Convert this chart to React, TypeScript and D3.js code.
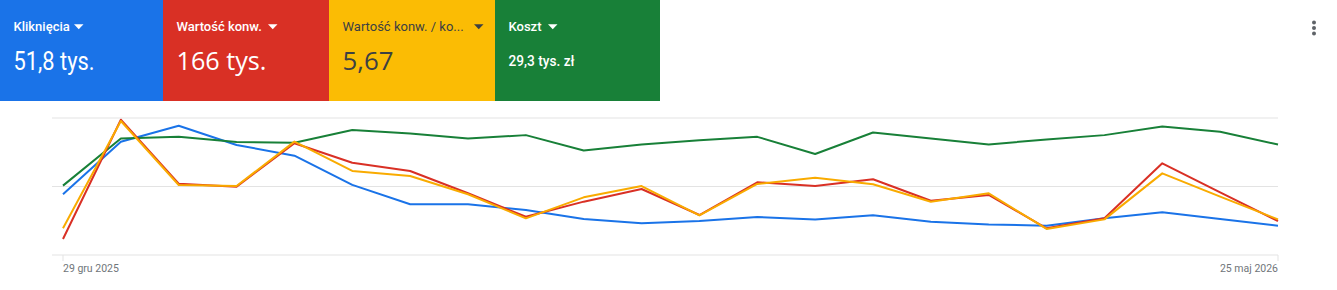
import React from "react";
import * as d3 from "d3";

const weeks = [
  "2025-12-29","2026-01-05","2026-01-12","2026-01-19","2026-01-26","2026-02-02","2026-02-09","2026-02-16",
  "2026-02-23","2026-03-02","2026-03-09","2026-03-16","2026-03-23","2026-03-30","2026-04-06","2026-04-13",
  "2026-04-20","2026-04-27","2026-05-04","2026-05-11","2026-05-18","2026-05-25",
];
const clicks = [2660,4960,5660,4820,4350,3070,2220,2220,1970,1580,1390,1490,1660,1560,1740,1460,1340,1280,1610,1870,1580,1280];
const convValue = [1870,15800,8330,7980,13050,10780,9810,7210,4470,6230,7710,4670,8490,8060,8840,6340,7010,3120,4290,10710,7320,3970];
const roas = [2.34,11.74,6.13,6.04,9.93,7.36,6.92,5.32,3.21,5.05,6.04,3.47,6.22,6.77,6.19,4.67,5.40,2.28,3.12,7.15,5.11,3.12];
const cost = [810,1360,1380,1320,1310,1460,1420,1360,1400,1220,1290,1340,1380,1180,1430,1360,1290,1350,1400,1500,1440,1290];

const tileLabels = ["Kliknięcia", "Wartość konw.", "Wartość konw. / ko...", "Koszt"];
const tileValues = ["51,8 tys.", "166 tys.", "5,67", "29,3 tys. zł"];
const axisLabels = ["29 gru 2025", "25 maj 2026"];

const W = 1337, H = 290;
const FONT = "Roboto, 'Noto Sans', Arial, sans-serif";
const SANS2 = "'Open Sans', Roboto, sans-serif";

export default function App() {
  const parse = d3.timeParse("%Y-%m-%d");
  const dates = weeks.map((w) => parse(w) as Date);
  const x = d3.scaleTime().domain([dates[0], dates[dates.length - 1]]).range([63, 1278]);
  const yTop = 118, yBot = 255;
  const mk = (max: number) => d3.scaleLinear().domain([0, max]).range([yBot, yTop]);
  const series = [
    { data: clicks, y: mk(6000), color: "#1a73e8" },
    { data: cost, y: mk(1600), color: "#188038" },
    { data: convValue, y: mk(16000), color: "#d93025" },
    { data: roas, y: mk(12), color: "#f9ab00" },
  ];
  const gridY = mk(1);
  const grid = [0, 0.5, 1];

  const tiles = [
    { x0: 0, x1: 163, bg: "#1a73e8", fg: "#ffffff", lw: 500, tri: 74, vSize: 25, vFont: FONT, vWeight: 400, vLen: 81, vY: 69.5 },
    { x0: 163, x1: 329, bg: "#d93025", fg: "#ffffff", lw: 500, tri: 268, vSize: 26, vFont: SANS2, vWeight: 400, vLen: 90, vY: 70 },
    { x0: 329, x1: 495, bg: "#fbbc04", fg: "#3c4043", lw: 400, tri: 474, vSize: 26, vFont: SANS2, vWeight: 400, vLen: 51, vY: 70 },
    { x0: 495, x1: 660, bg: "#188038", fg: "#ffffff", lw: 500, tri: 548, vSize: 15, vFont: FONT, vWeight: 500, vLen: 66, vY: 65.7 },
  ];

  return (
    <svg width={W} height={H} style={{ position: "fixed", left: 0, top: 0, background: "#fff" }} fontFamily={FONT}>
      {tiles.map((t, i) => (
        <g key={i}>
          <rect x={t.x0} y={0} width={t.x1 - t.x0} height={101} fill={t.bg} />
          <text x={t.x0 + 13.5} y={31} fontSize={13} fontWeight={t.lw} fill={t.fg}>{tileLabels[i]}</text>
          <path d={`M${t.tri},24.3 L${t.tri + 9.5},24.3 L${t.tri + 4.75},29.3 Z`} fill={t.fg} />
          <text x={t.x0 + 13.5} y={t.vY} fontSize={t.vSize} fontWeight={t.vWeight} fontFamily={t.vFont}
            fill={t.fg} textLength={t.vLen} lengthAdjust="spacingAndGlyphs">{tileValues[i]}</text>
        </g>
      ))}
      {[22.5, 28, 33.5].map((cy, i) => (
        <circle key={i} cx={1314} cy={cy} r={2} fill="#5f6368" />
      ))}
      {grid.map((g, i) => (
        <line key={i} x1={52} x2={1278} y1={gridY(g)} y2={gridY(g)} stroke="#e3e3e3" strokeWidth={1.2} />
      ))}
      {[dates[0], dates[dates.length - 1]].map((d, i) => (
        <line key={i} x1={x(d)} x2={x(d)} y1={255} y2={261} stroke="#e3e3e3" strokeWidth={1} />
      ))}
      {series.map((s, i) => {
        const line = d3.line<number>().x((_, j) => x(dates[j])).y((v) => s.y(v));
        return <path key={i} d={line(s.data) || ""} fill="none" stroke={s.color} strokeWidth={2} strokeLinejoin="round" />;
      })}
      <text x={x(dates[0])} y={272} fontSize={10.5} fill="#70757a">{axisLabels[0]}</text>
      <text x={x(dates[dates.length - 1])} y={272} fontSize={10.5} fill="#70757a" textAnchor="end">{axisLabels[1]}</text>
    </svg>
  );
}
